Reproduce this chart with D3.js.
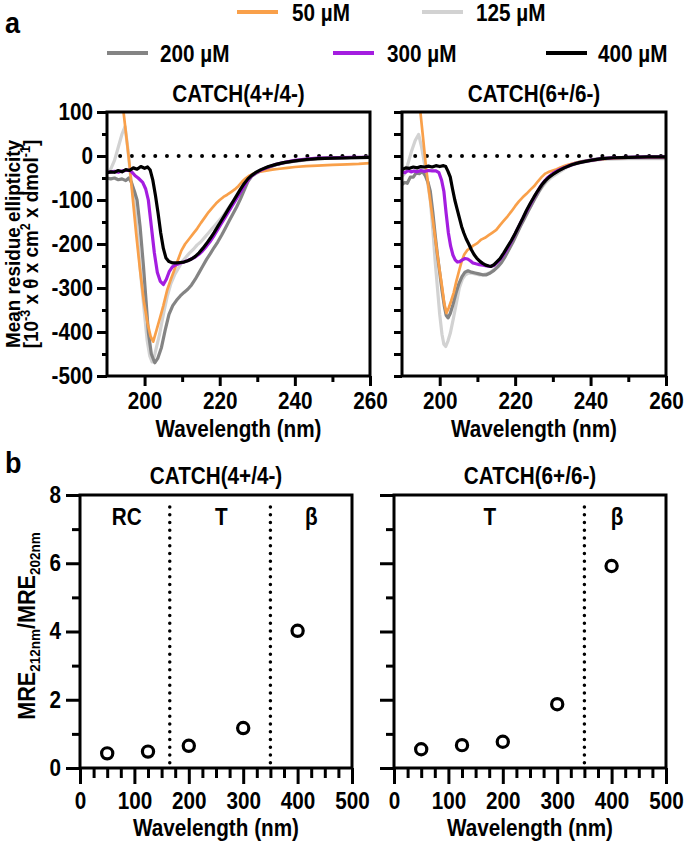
<!DOCTYPE html>
<html><head><meta charset="utf-8">
<script src="https://cdn.jsdelivr.net/npm/d3@7"></script>
<style>
body{margin:0;background:#fff}
text{font-family:"Liberation Sans",Arial,sans-serif;font-weight:bold;fill:#000}
</style>
</head><body>
<svg id="c" width="685" height="842"></svg>
<script>
// ---------- DATA ----------
const concentrations = ["50 µM","125 µM","200 µM","300 µM","400 µM"];
const seriesColors = ["#F9A04A","#D2D2D2","#848484","#A41DE0","#000000"];
const panelTitles = ["CATCH(4+/4-)","CATCH(6+/6-)"];
const cdTicksX = [200,220,240,260];
const cdMinorX = [210,230,250];
const cdTicksY = [-500,-400,-300,-200,-100,0,100];
const cdMinorY = [-450,-350,-250,-150,-50,50];

// CATCH(4+/4-) spectra [wavelength nm, MRE]
const c44_50 = [[193.6,140],[194.4,100],[195.2,40],[196,-20],[196.9,-100],[197.8,-180],[198.8,-260],[199.8,-330],[200.8,-380],[201.6,-410],[202.3,-422],[203.2,-395],[204.2,-365],[205,-340],[206,-305],[207,-280],[207.8,-262],[208.8,-238],[209.8,-215],[210.8,-200],[212,-187],[213,-176],[214,-165],[215,-152],[216,-140],[217,-128],[218,-118],[219,-108],[220,-100],[221,-93],[222,-88],[223,-82],[224,-76],[225,-68],[226,-58],[227,-50],[228,-44],[229,-40],[230,-37],[232,-34],[234,-31],[236,-29],[238,-27],[240,-25],[243,-23],[246,-22],[250,-20],[254,-19],[257,-18],[260,-16]];
const c44_125 = [[190,-38],[191,-30],[192,-10],[193,20],[194,50],[194.8,67],[195.5,20],[196.2,-40],[197,-90],[197.8,-150],[198.5,-220],[199.2,-290],[200,-360],[200.7,-420],[201.4,-455],[202,-468],[202.6,-455],[203.3,-430],[204,-405],[205,-360],[206,-320],[207,-290],[208,-270],[209,-255],[210,-240],[211,-230],[212,-220],[213,-212],[214,-202],[215,-195],[216,-185],[217,-175],[218,-165],[219,-155],[220,-145],[221,-135],[222,-122],[223,-110],[224,-100],[225,-85],[226,-70],[227,-55],[228,-46],[229,-40],[230,-35],[232,-27],[234,-22],[236,-17],[238,-13],[240,-11],[243,-8],[246,-6],[250,-5],[255,-4],[260,-3]];
const c44_200 = [[190,-50],[191,-52],[192,-50],[193,-54],[194,-52],[195,-56],[195.8,-50],[196.5,-60],[197.3,-80],[198,-100],[198.8,-160],[199.7,-250],[200.4,-330],[201,-400],[201.8,-450],[202.7,-470],[203.5,-460],[204.5,-435],[205.5,-395],[206.5,-360],[207.5,-340],[208.5,-328],[209.5,-318],[210.5,-310],[211.5,-303],[212.5,-293],[213.5,-280],[214.5,-265],[215.5,-250],[216.5,-235],[217.5,-222],[218.5,-208],[219.5,-195],[220.5,-180],[221.5,-164],[222.5,-148],[223.5,-132],[224.5,-116],[225.5,-98],[226.5,-78],[227.5,-58],[228.5,-46],[229.5,-40],[231,-33],[233,-26],[235,-20],[237,-16],[240,-12],[243,-9],[246,-6],[250,-5],[255,-4],[260,-3]];
const c44_300 = [[190,-38],[191,-36],[192,-35],[193,-37],[194,-34],[195,-33],[196,-32],[196.8,-38],[197.5,-45],[198.3,-50],[199.5,-60],[200.3,-75],[201,-100],[201.8,-160],[202.6,-220],[203.4,-265],[204.2,-285],[205,-292],[205.8,-280],[206.6,-262],[207.4,-252],[208.4,-247],[209.4,-244],[210.4,-241],[211.4,-238],[212.4,-234],[213.4,-230],[214.4,-224],[215.4,-216],[216.4,-206],[217.4,-195],[218.4,-182],[219.4,-168],[220.4,-154],[221.4,-140],[222.4,-126],[223.4,-112],[224.4,-98],[225.4,-84],[226.4,-70],[227.4,-56],[228.4,-46],[229.5,-39],[231,-32],[233,-25],[235,-19],[237,-15],[240,-10],[243,-7],[246,-5],[250,-4],[255,-3],[260,-3]];
const c44_400 = [[190,-38],[191,-36],[192,-37],[193,-33],[194,-36],[195,-31],[196,-33],[197,-27],[198,-30],[199,-24],[200,-28],[200.8,-25],[201.5,-32],[202.2,-55],[202.9,-90],[203.6,-130],[204.3,-175],[205,-210],[205.7,-232],[206.5,-240],[207.5,-243],[208.5,-243],[209.5,-242],[210.5,-241],[211.5,-238],[212.5,-234],[213.5,-228],[214.5,-220],[215.5,-210],[216.5,-199],[217.5,-187],[218.5,-174],[219.5,-160],[220.5,-146],[221.5,-132],[222.5,-118],[223.5,-104],[224.5,-90],[225.5,-76],[226.5,-63],[227.5,-52],[228.5,-44],[229.5,-38],[231,-31],[233,-24],[235,-19],[237,-15],[240,-11],[243,-8],[246,-6],[250,-5],[255,-4],[260,-3]];

// CATCH(6+/6-) spectra
const c66_50 = [[194.5,130],[194.9,98],[195.6,40],[196.3,-20],[197,-70],[197.7,-115],[198.4,-160],[199.1,-205],[199.8,-250],[200.6,-296],[201.2,-335],[201.8,-357],[202.4,-345],[203,-330],[203.7,-311],[204.4,-285],[205.1,-262],[205.8,-240],[206.5,-224],[207.3,-214],[208,-210],[209,-203],[210,-198],[211,-190],[212,-186],[213,-180],[214,-174],[215,-168],[216,-157],[217,-147],[218,-137],[219,-126],[220,-114],[221,-103],[222,-94],[223,-86],[224,-77],[225,-69],[226,-58],[227,-48],[228,-40],[229,-36],[230,-33],[231,-30],[232,-26],[233,-23],[234,-20],[235,-18],[237,-14],[240,-10],[243,-7],[246,-5],[250,-4],[255,-3],[260,-3]];
const c66_125 = [[190,-46],[190.5,-42],[191.5,-20],[192.5,10],[193.5,35],[194.4,49],[195.2,20],[196,-20],[196.8,-60],[197.5,-100],[198.2,-170],[198.8,-240],[199.4,-300],[200,-360],[200.6,-405],[201.1,-428],[201.6,-433],[202.2,-420],[202.8,-403],[203.6,-370],[204.4,-335],[205.2,-300],[206,-280],[206.8,-270],[207.6,-266],[208.4,-266],[209.4,-268],[210.4,-270],[211.4,-270],[212.4,-268],[213.4,-265],[214.4,-258],[215.4,-250],[216.4,-240],[217.4,-226],[218.4,-210],[219.4,-193],[220.4,-176],[221.4,-159],[222.4,-143],[223.4,-126],[224.4,-110],[225.4,-95],[226.4,-80],[227.4,-68],[228.4,-58],[229.4,-50],[230.4,-44],[232,-35],[234,-24],[236,-18],[238,-14],[240,-11],[243,-8],[246,-7],[250,-6],[255,-6],[260,-6]];
const c66_200 = [[190,-65],[190.7,-60],[191.4,-62],[192.2,-48],[193,-48],[193.8,-38],[194.6,-40],[195.4,-35],[196.2,-45],[196.9,-60],[197.5,-80],[198.2,-130],[198.8,-180],[199.4,-225],[200,-265],[200.6,-305],[201.2,-340],[201.7,-362],[202.2,-368],[202.8,-358],[203.5,-338],[204.3,-312],[205.1,-290],[205.9,-274],[206.7,-264],[207.5,-261],[208.4,-264],[209.4,-266],[210.4,-268],[211.4,-270],[212.4,-270],[213.4,-266],[214.4,-260],[215.4,-252],[216.4,-242],[217.4,-228],[218.4,-212],[219.4,-196],[220.4,-178],[221.4,-160],[222.4,-143],[223.4,-126],[224.4,-110],[225.4,-94],[226.4,-79],[227.4,-65],[228.4,-54],[229.4,-45],[230.4,-38],[232,-30],[234,-22],[236,-16],[238,-12],[240,-9],[243,-6],[246,-5],[250,-4],[255,-4],[260,-4]];
const c66_300 = [[190,-36],[190.8,-38],[191.6,-33],[192.4,-36],[193.2,-34],[194,-36],[195,-33],[196,-35],[197,-33],[198,-34],[199,-34],[199.8,-38],[200.5,-55],[201.1,-80],[201.7,-130],[202.3,-175],[202.9,-205],[203.5,-225],[204.1,-236],[204.7,-241],[205.3,-240],[206,-236],[206.7,-233],[207.4,-234],[208.1,-238],[208.8,-243],[209.6,-245],[210.5,-247],[211.5,-248],[212.5,-250],[213.5,-251],[214.5,-248],[215.5,-240],[216.5,-230],[217.5,-217],[218.5,-202],[219.5,-186],[220.5,-168],[221.5,-151],[222.5,-134],[223.5,-118],[224.5,-102],[225.5,-87],[226.5,-72],[227.5,-60],[228.5,-50],[229.5,-43],[230.5,-37],[232,-30],[234,-23],[236,-17],[238,-13],[240,-10],[243,-6],[246,-4],[250,-3],[255,-2],[260,-2]];
const c66_400 = [[190,-31],[191,-27],[192,-28],[193,-25],[194,-27],[195,-24],[196,-25],[197,-23],[198,-25],[199,-22],[200,-24],[201,-22],[201.6,-24],[202.2,-35],[202.8,-48],[203.4,-75],[204,-100],[204.6,-120],[205.2,-140],[205.8,-160],[206.4,-175],[207,-188],[207.7,-200],[208.4,-213],[209.1,-224],[209.8,-232],[210.6,-239],[211.4,-244],[212.2,-248],[213,-250],[213.6,-251],[214.4,-247],[215.2,-240],[216,-233],[217,-220],[218,-206],[219,-192],[220,-176],[221,-159],[222,-142],[223,-124],[224,-108],[225,-93],[226,-79],[227,-66],[228,-56],[229,-48],[230,-42],[231.5,-34],[233,-27],[235,-20],[237,-15],[240,-10],[243,-6],[246,-4],[250,-3],[255,-2],[260,-2]];

// Panel b: ratio MRE212/MRE202 vs concentration
const ratioConc = [50,125,200,300,400];
const ratio44 = [0.43,0.48,0.65,1.17,4.02];
const ratio66 = [0.55,0.67,0.77,1.87,5.92];
const dividers44 = [165,350];
const dividers66 = [350];
const regions44 = [["RC",86],["T",260],["β",425]];
const regions66 = [["T",176],["β",410]];
const ratioTicksX = [0,100,200,300,400,500];
const ratioMinorX = [25,50,75,125,150,175,225,250,275,325,350,375,425,450,475];
const ratioTicksY = [0,2,4,6,8];
const ratioMinorY = [1,3,5,7];

// ---------- DRAW ----------
const svg = d3.select("#c");
const FS = 23;
const SX = 0.9; // horizontal condensation of the bold face

const spectra = [
  [c44_50,c44_125,c44_200,c44_300,c44_400],
  [c66_50,c66_125,c66_200,c66_300,c66_400]
];
const drawOrder = [1,2,0,3,4];

function styleAxis(g){
  g.select(".domain").remove();
  g.selectAll(".tick line").attr("stroke","#000").attr("stroke-width",3);
  g.selectAll(".tick text").style("font-size",FS+"px").style("font-family",'"Liberation Sans",Arial,sans-serif').style("font-weight","bold").attr("fill","#000");
}

function frame(x0,x1,y0,y1){
  svg.append("rect").attr("x",x0).attr("y",y0).attr("width",x1-x0).attr("height",y1-y0)
    .attr("fill","none").attr("stroke","#000").attr("stroke-width",3);
}

// Panel a
const aPanels = [{x0:107,x1:370},{x0:402,x1:666}];
const aY0 = 112, aY1 = 376;
aPanels.forEach((p,i)=>{
  const x = d3.scaleLinear().domain([190,260]).range([p.x0,p.x1]);
  const y = d3.scaleLinear().domain([-500,100]).range([aY1,aY0]);
  const cid = "clipA"+i;
  svg.append("clipPath").attr("id",cid).append("rect")
    .attr("x",p.x0).attr("y",aY0).attr("width",p.x1-p.x0).attr("height",aY1-aY0);
  svg.append("line").attr("x1",x(193.5)).attr("x2",x(260)).attr("y1",y(0)).attr("y2",y(0))
    .attr("stroke","#000").attr("stroke-width",4).attr("stroke-linecap","round")
    .attr("stroke-dasharray","0,11.7");
  const line = d3.line().x(d=>x(d[0])).y(d=>y(d[1]));
  const g = svg.append("g").attr("clip-path",`url(#${cid})`);
  drawOrder.forEach(k=>{
    g.append("path").datum(spectra[i][k]).attr("d",line).attr("fill","none")
      .attr("stroke",seriesColors[k]).attr("stroke-width",k===0?2.7:3.2)
      .attr("stroke-linejoin","round");
  });
  frame(p.x0,p.x1,aY0,aY1);
  svg.append("g").attr("transform",`translate(0,${aY1})`)
    .call(d3.axisBottom(x).tickValues(cdTicksX).tickSize(10).tickPadding(7).tickFormat(d=>String(d))).call(styleAxis);
  svg.append("g").attr("transform",`translate(0,${aY1})`)
    .call(d3.axisBottom(x).tickValues(cdMinorX).tickSize(6).tickFormat("")).call(styleAxis);
  svg.append("g").attr("transform",`translate(${p.x0},0)`)
    .call(d3.axisLeft(y).tickValues(cdTicksY).tickSize(i===0?10:8).tickPadding(4).tickFormat(i===0?(d=>String(d)):"")).call(styleAxis);
  svg.append("g").attr("transform",`translate(${p.x0},0)`)
    .call(d3.axisLeft(y).tickValues(cdMinorY).tickSize(i===0?5:8).tickFormat("")).call(styleAxis);
  svg.append("text").attr("x",(p.x0+p.x1)/2).attr("y",102).attr("text-anchor","middle")
    .style("font-size",FS+"px").text(panelTitles[i]);
  svg.append("text").attr("x",(p.x0+p.x1)/2).attr("y",437).attr("text-anchor","middle")
    .style("font-size",FS+"px").text("Wavelength (nm)");
});

// y label panel a
svg.append("text").attr("transform",`translate(20,244) rotate(-90)`).attr("text-anchor","middle")
  .style("font-size","21px").text("Mean residue ellipticity");
const ya2 = svg.append("text").attr("transform",`translate(38,244) rotate(-90)`).attr("text-anchor","middle").style("font-size","21px");
ya2.append("tspan").text("[10");
ya2.append("tspan").attr("dy",-8).style("font-size","14px").text("-3");
ya2.append("tspan").attr("dy",8).text(" x θ x cm");
ya2.append("tspan").attr("dy",-8).style("font-size","14px").text("2");
ya2.append("tspan").attr("dy",8).text(" x dmol");
ya2.append("tspan").attr("dy",-8).style("font-size","14px").text("-1");
ya2.append("tspan").attr("dy",8).text("]");

// Legend
const legendItems = [
  {k:0,lx:237,tx:292,y:12},
  {k:1,lx:422,tx:476,y:12},
  {k:2,lx:107,tx:160,y:53},
  {k:3,lx:333,tx:387,y:53},
  {k:4,lx:546,tx:598,y:53}
];
legendItems.forEach(d=>{
  svg.append("line").attr("x1",d.lx).attr("x2",d.lx+41).attr("y1",d.y).attr("y2",d.y)
    .attr("stroke",seriesColors[d.k]).attr("stroke-width",4);
  svg.append("text").attr("x",d.tx).attr("y",d.y+9).style("font-size",FS+"px").text(concentrations[d.k]);
});

// Panel letters
svg.append("text").attr("x",5).attr("y",33).style("font-size","30px").text("a");
svg.append("text").attr("x",5).attr("y",473).style("font-size","30px").text("b");

// Panel b
const bPanels = [{x0:80,x1:352,vals:ratio44,div:dividers44,reg:regions44},{x0:394,x1:666,vals:ratio66,div:dividers66,reg:regions66}];
const bY0 = 495, bY1 = 768;
bPanels.forEach((p,i)=>{
  const x = d3.scaleLinear().domain([0,500]).range([p.x0,p.x1]);
  const y = d3.scaleLinear().domain([0,8]).range([bY1,bY0]);
  p.div.forEach(v=>{
    svg.append("line").attr("x1",x(v)).attr("x2",x(v)).attr("y1",y(7.65)).attr("y2",y(0.1))
      .attr("stroke","#000").attr("stroke-width",3.5).attr("stroke-linecap","round")
      .attr("stroke-dasharray","0,7.75");
  });
  p.reg.forEach(r=>{
    svg.append("text").attr("x",x(r[1])).attr("y",525).attr("text-anchor","middle")
      .style("font-size",FS+"px").text(r[0]);
  });
  svg.append("g").selectAll("circle").data(ratioConc).join("circle")
    .attr("cx",d=>x(d)).attr("cy",(d,j)=>y(p.vals[j])).attr("r",5.6)
    .attr("fill","none").attr("stroke","#000").attr("stroke-width",3.2);
  frame(p.x0,p.x1,bY0,bY1);
  svg.append("g").attr("transform",`translate(0,${bY1})`)
    .call(d3.axisBottom(x).tickValues(ratioTicksX).tickSize(16).tickPadding(9).tickFormat(d=>String(d))).call(styleAxis);
  svg.append("g").attr("transform",`translate(0,${bY1})`)
    .call(d3.axisBottom(x).tickValues(ratioMinorX).tickSize(10).tickFormat("")).call(styleAxis);
  svg.append("g").attr("transform",`translate(${p.x0},0)`)
    .call(d3.axisLeft(y).tickValues(ratioTicksY).tickSize(14).tickPadding(5).tickFormat(i===0?(d=>String(d)):"")).call(styleAxis);
  svg.append("g").attr("transform",`translate(${p.x0},0)`)
    .call(d3.axisLeft(y).tickValues(ratioMinorY).tickSize(8).tickFormat("")).call(styleAxis);
  svg.append("text").attr("x",(p.x0+p.x1)/2).attr("y",484).attr("text-anchor","middle")
    .style("font-size",FS+"px").text(panelTitles[i]);
  svg.append("text").attr("x",(p.x0+p.x1)/2).attr("y",836).attr("text-anchor","middle")
    .style("font-size",FS+"px").text("Wavelength (nm)");
});

// y label panel b
const yb = svg.append("text").attr("transform",`translate(35,626) rotate(-90)`).attr("text-anchor","middle").style("font-size","24px");
yb.append("tspan").text("MRE");
yb.append("tspan").attr("dy",5).style("font-size","15px").text("212nm");
yb.append("tspan").attr("dy",-5).text("/MRE");
yb.append("tspan").attr("dy",5).style("font-size","15px").text("202nm");

// condense all text horizontally (bold narrow look of the original)
svg.selectAll("text").each(function(){
  const t = d3.select(this);
  const tx = +(t.attr("x")||0), ty = +(t.attr("y")||0);
  const tr = t.attr("transform")||"";
  t.attr("x",null).attr("y",null)
   .attr("transform",`${tr} translate(${tx},${ty}) scale(${SX},1)`);
});
</script>
</body></html>
